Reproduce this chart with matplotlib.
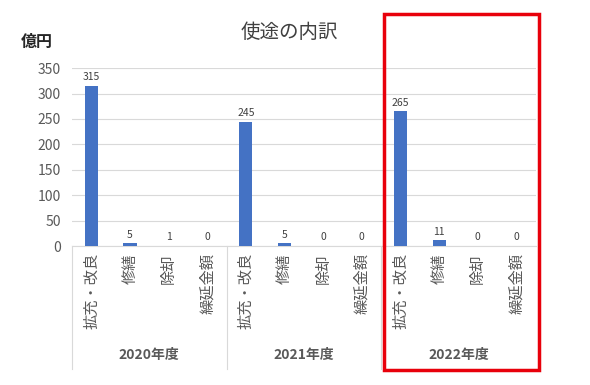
import numpy as np
import matplotlib.pyplot as plt
import matplotlib.transforms as mtransforms
from matplotlib.patches import Rectangle

plt.rcParams['font.family'] = ['Noto Sans CJK JP', 'DejaVu Sans']

years = ['2020年度', '2021年度', '2022年度']
items = ['拡充・改良', '修繕', '除却', '繰延金額']
values = [315, 5, 1, 0,
          245, 5, 0, 0,
          265, 11, 0, 0]

gray = '#595959'
fig = plt.figure(figsize=(5.9, 3.85), dpi=100)
ax = fig.add_axes([0.122, 0.361, 0.786, 0.462])

n = len(values)
x = np.arange(n)
ax.bar(x, values, width=0.34, color='#4472C4', zorder=3)
for xi, v in zip(x, values):
    ax.text(xi, v + 7, str(v), ha='center', va='bottom', fontsize=7.5, color='#404040')

ax.set_xlim(-0.5, n - 0.5)
ax.set_ylim(0, 350)
ax.set_yticks(range(0, 351, 50))
ax.yaxis.grid(True, color='#d9d9d9', linewidth=0.8, zorder=0)
ax.tick_params(axis='y', length=0, labelsize=10, labelcolor=gray, pad=8)
ax.tick_params(axis='x', length=0)
ax.set_xticks([])
for s in ['top', 'right', 'left']:
    ax.spines[s].set_visible(False)
ax.spines['bottom'].set_color('#d9d9d9')

trans = mtransforms.blended_transform_factory(ax.transData, ax.transAxes)
# category labels
for i in range(n):
    ax.text(x[i], -0.04, items[i % 4], transform=trans, rotation=90,
            ha='center', va='top', fontsize=11, color=gray)
# group separators and year labels
for g in range(len(years)):
    xb = g * 4 - 0.5
    ax.plot([xb, xb], [0, -0.69], transform=trans, color='#d9d9d9',
            linewidth=0.8, clip_on=False)
for g, yr in enumerate(years):
    ax.text(g * 4 + 1.5, -0.615, yr, transform=trans, ha='center', va='center',
            fontsize=10, fontweight='bold', color=gray)

fig.text(0.49, 0.915, '使途の内訳', ha='center', va='center', fontsize=14, color='#404040')
fig.text(0.062, 0.89, '億円', ha='center', va='center', fontsize=11.5,
         fontweight='bold', color='#262626')

fig.add_artist(Rectangle((384 / 590, 1 - 370 / 385), 155 / 590, 356 / 385,
                         transform=fig.transFigure, fill=False,
                         edgecolor='#e8000b', linewidth=2.5))

fig.savefig('out.png')
